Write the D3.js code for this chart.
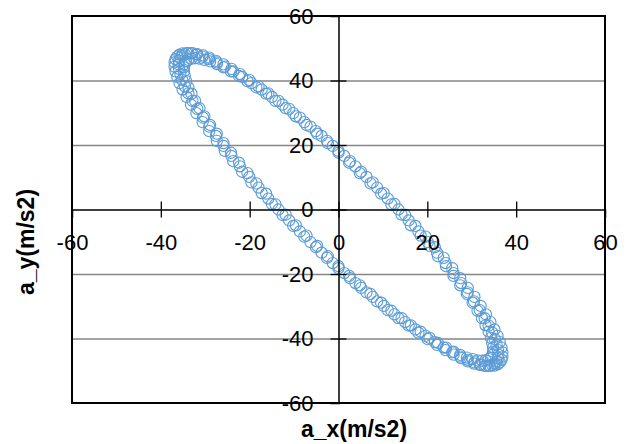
<!DOCTYPE html>
<html>
<head>
<meta charset="utf-8">
<script src="https://cdn.jsdelivr.net/npm/d3@7"></script>
<style>
html,body{margin:0;padding:0;background:#fff;}
svg{display:block;}
</style>
</head>
<body>
<svg id="chart" width="629" height="444"></svg>
<script>
// ---- data ----
const xTicks = [-60, -40, -20, 0, 20, 40, 60];
const yTicks = [-60, -40, -20, 0, 20, 40, 60];
const gridValues = [-40, -20, 20, 40];
const xTitle = "a_x(m/s2)";
const yTitle = "a_y(m/s2)";

const axValues = [
  36.0,35.9,35.6,35.2,34.6,33.8,32.9,31.8,30.5,29.1,27.6,25.9,24.1,22.2,20.1,18.0,15.8,13.5,11.1,8.7,6.3,3.8,1.3,-1.3,-3.8,-6.3,-8.7,-11.1,-13.5,-15.8,-18.0,-20.1,-22.2,-24.1,-25.9,-27.6,-29.1,-30.5,-31.8,-32.9,-33.8,-34.6,-35.2,-35.6,-35.9,
  -36.0,-35.9,-35.6,-35.2,-34.6,-33.8,-32.9,-31.8,-30.5,-29.1,-27.6,-25.9,-24.1,-22.2,-20.1,-18.0,-15.8,-13.5,-11.1,-8.7,-6.3,-3.8,-1.3,1.3,3.8,6.3,8.7,11.1,13.5,15.8,18.0,20.1,22.2,24.1,25.9,27.6,29.1,30.5,31.8,32.9,33.8,34.6,35.2,35.6,35.9,
  34.8,34.6,34.3,33.8,33.1,32.3,31.3,30.2,28.9,27.4,25.9,24.2,22.4,20.5,18.5,16.3,14.2,11.9,9.6,7.2,4.8,2.4,0.0,-2.4,-4.8,-7.2,-9.6,-11.9,-14.2,-16.3,-18.5,-20.5,-22.4,-24.2,-25.9,-27.4,-28.9,-30.2,-31.3,-32.3,-33.1,-33.8,-34.3,-34.6,-34.8,
  -34.8,-34.6,-34.3,-33.8,-33.1,-32.3,-31.3,-30.2,-28.9,-27.4,-25.9,-24.2,-22.4,-20.5,-18.5,-16.3,-14.2,-11.9,-9.6,-7.2,-4.8,-2.4,0.0,2.4,4.8,7.2,9.6,11.9,14.2,16.3,18.5,20.5,22.4,24.2,25.9,27.4,28.9,30.2,31.3,32.3,33.1,33.8,34.3,34.6,34.8,
  36.9,36.7,36.3,35.8,35.1,34.2,33.2,32.0,30.6,29.1,27.4,25.6,23.7,21.7,19.6,17.3,15.0,12.6,10.2,7.7,5.1,2.6,0.0,-2.6,-5.1,-7.7,-10.2,-12.6,-15.0,-17.3,-19.6,-21.7,-23.7,-25.6,-27.4,-29.1,-30.6,-32.0,-33.2,-34.2,-35.1,-35.8,-36.3,-36.7,-36.9,
  -36.9,-36.7,-36.3,-35.8,-35.1,-34.2,-33.2,-32.0,-30.6,-29.1,-27.4,-25.6,-23.7,-21.7,-19.6,-17.3,-15.0,-12.6,-10.2,-7.7,-5.1,-2.6,0.0,2.6,5.1,7.7,10.2,12.6,15.0,17.3,19.6,21.7,23.7,25.6,27.4,29.1,30.6,32.0,33.2,34.2,35.1,35.8,36.3,36.7,36.9
];
const ayValues = [
  -45.0,-43.6,-42.0,-40.2,-38.2,-36.0,-33.7,-31.2,-28.5,-25.7,-22.8,-19.7,-16.6,-13.4,-10.1,-6.8,-3.4,0.0,3.4,6.8,10.1,13.4,16.6,19.7,22.8,25.7,28.5,31.2,33.7,36.0,38.2,40.2,42.0,43.6,45.0,46.1,47.1,47.8,48.2,48.5,48.5,48.2,47.8,47.1,46.1,
  45.0,43.6,42.0,40.2,38.2,36.0,33.7,31.2,28.5,25.7,22.8,19.7,16.6,13.4,10.1,6.8,3.4,0.0,-3.4,-6.8,-10.1,-13.4,-16.6,-19.7,-22.8,-25.7,-28.5,-31.2,-33.7,-36.0,-38.2,-40.2,-42.0,-43.6,-45.0,-46.1,-47.1,-47.8,-48.2,-48.5,-48.5,-48.2,-47.8,-47.1,-46.1,
  -42.8,-41.4,-39.8,-37.9,-35.9,-33.7,-31.4,-28.9,-26.2,-23.5,-20.6,-17.6,-14.5,-11.3,-8.1,-4.9,-1.6,1.6,4.9,8.1,11.3,14.5,17.6,20.6,23.5,26.2,28.9,31.4,33.7,35.9,37.9,39.8,41.4,42.8,44.1,45.1,45.9,46.4,46.8,46.9,46.8,46.4,45.9,45.1,44.1,
  42.8,41.4,39.8,37.9,35.9,33.7,31.4,28.9,26.2,23.5,20.6,17.6,14.5,11.3,8.1,4.9,1.6,-1.6,-4.9,-8.1,-11.3,-14.5,-17.6,-20.6,-23.5,-26.2,-28.9,-31.4,-33.7,-35.9,-37.9,-39.8,-41.4,-42.8,-44.1,-45.1,-45.9,-46.4,-46.8,-46.9,-46.8,-46.4,-45.9,-45.1,-44.1,
  -44.3,-42.8,-41.1,-39.2,-37.2,-34.9,-32.5,-29.9,-27.1,-24.3,-21.3,-18.2,-15.0,-11.7,-8.4,-5.1,-1.7,1.7,5.1,8.4,11.7,15.0,18.2,21.3,24.3,27.1,29.9,32.5,34.9,37.2,39.2,41.1,42.8,44.3,45.6,46.6,47.4,48.0,48.4,48.5,48.4,48.0,47.4,46.6,45.6,
  44.3,42.8,41.1,39.2,37.2,34.9,32.5,29.9,27.1,24.3,21.3,18.2,15.0,11.7,8.4,5.1,1.7,-1.7,-5.1,-8.4,-11.7,-15.0,-18.2,-21.3,-24.3,-27.1,-29.9,-32.5,-34.9,-37.2,-39.2,-41.1,-42.8,-44.3,-45.6,-46.6,-47.4,-48.0,-48.4,-48.5,-48.4,-48.0,-47.4,-46.6,-45.6
];

// ---- layout ----
const svg = d3.select("#chart");
const plotLeft = 72, plotRight = 605, plotTop = 16, plotBottom = 403;
const x = d3.scaleLinear().domain([-60, 60]).range([plotLeft, plotRight]);
const y = d3.scaleLinear().domain([-60, 60]).range([plotBottom, plotTop]);
const fontFamily = "'Liberation Sans', Arial, sans-serif";
const points = axValues.map((v, i) => ({ax: v, ay: ayValues[i]}));
const fmt = d => String(d);

// gridlines
const grid = svg.append("g")
  .attr("transform", `translate(${plotLeft},0)`)
  .call(d3.axisLeft(y).tickValues(gridValues).tickSize(-(plotRight - plotLeft)).tickFormat(""));
grid.select(".domain").remove();
grid.selectAll("line").attr("stroke", "#868686").attr("stroke-width", 1.3);

// plot border
svg.append("rect")
  .attr("x", plotLeft).attr("y", plotTop)
  .attr("width", plotRight - plotLeft).attr("height", plotBottom - plotTop)
  .attr("fill", "none").attr("stroke", "#000").attr("stroke-width", 2);

// points
svg.append("g").selectAll("circle")
  .data(points).enter().append("circle")
  .attr("cx", d => x(d.ax))
  .attr("cy", d => y(d.ay))
  .attr("r", 5.6)
  .attr("fill", "none")
  .attr("stroke", "#5B9BD5")
  .attr("stroke-width", 1.1);

// y axis (vertical at x = 0)
const x0 = x(0), y0 = y(0);
const yAxisL = svg.append("g").attr("transform", `translate(${x0},0)`)
  .call(d3.axisLeft(y).tickValues(yTicks).tickSize(8).tickPadding(17).tickFormat(fmt));
const yAxisR = svg.append("g").attr("transform", `translate(${x0},0)`)
  .call(d3.axisRight(y).tickValues(yTicks.filter(v => Math.abs(v) < 60)).tickSize(8).tickFormat(""));
yAxisR.select(".domain").remove();

// x axis (horizontal at y = 0)
const xAxisB = svg.append("g").attr("transform", `translate(0,${y0})`)
  .call(d3.axisBottom(x).tickValues(xTicks).tickSize(8).tickPadding(17).tickFormat(fmt));
const xAxisT = svg.append("g").attr("transform", `translate(0,${y0})`)
  .call(d3.axisTop(x).tickValues(xTicks.filter(v => Math.abs(v) < 60)).tickSize(8).tickFormat(""));
xAxisT.select(".domain").remove();

[yAxisL, yAxisR, xAxisB, xAxisT].forEach(g => {
  g.select(".domain").attr("stroke", "#000").attr("stroke-width", 1.5);
  g.selectAll(".tick line").attr("stroke", "#000").attr("stroke-width", 1.3);
  g.selectAll(".tick text").attr("font-family", fontFamily).attr("font-size", 22).attr("fill", "#000");
});
// hide tick marks at +-60 (border)
yAxisL.selectAll(".tick").filter(d => Math.abs(d) === 60).select("line").remove();
xAxisB.selectAll(".tick").filter(d => Math.abs(d) === 60).select("line").remove();

// axis titles
svg.append("text")
  .attr("x", 354).attr("y", 437)
  .attr("text-anchor", "middle")
  .attr("font-family", fontFamily).attr("font-size", 23).attr("font-weight", "bold")
  .attr("fill", "#000")
  .text(xTitle);
svg.append("text")
  .attr("transform", "translate(34,242) rotate(-90)")
  .attr("text-anchor", "middle")
  .attr("font-family", fontFamily).attr("font-size", 23).attr("font-weight", "bold")
  .attr("fill", "#000")
  .text(yTitle);
</script>
</body>
</html>
